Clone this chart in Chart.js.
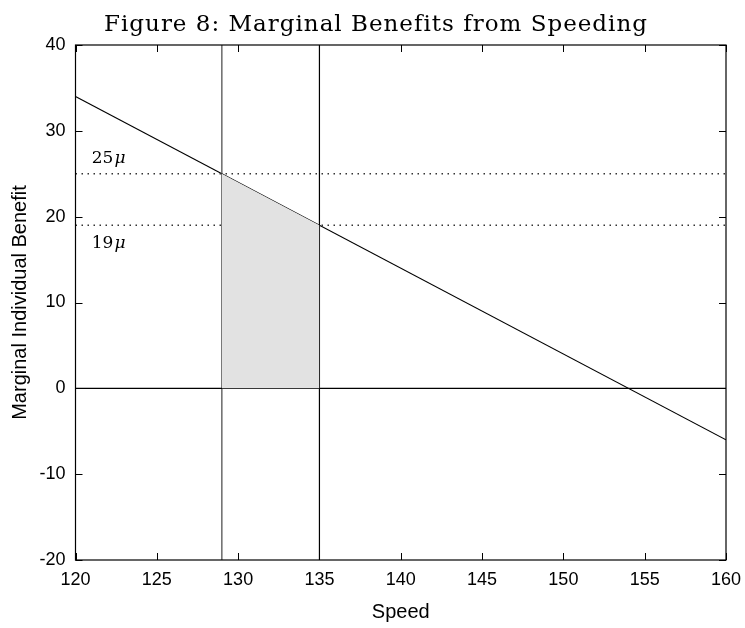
<!DOCTYPE html>
<html>
<head>
<meta charset="utf-8">
<script src="https://cdn.jsdelivr.net/npm/chart.js@4.4.1/dist/chart.umd.min.js"></script>
<style>
  html, body { margin: 0; padding: 0; background: #fff; }
  #wrap { width: 745px; height: 628px; }
</style>
</head>
<body>
<div id="wrap"><canvas id="chart" width="745" height="628"></canvas></div>
<script>
// Data
const benefitSpeeds = [120, 160];
const benefitValues = [34, -6];
const shadeSpeeds = [129, 135];
const shadeValues = [25, 19];
const markerSpeeds = [129, 135];
const levelValues = [25, 19];
const levelLabels = ['25', '19'];
const xTicks = [120, 125, 130, 135, 140, 145, 150, 155, 160];
const yTicks = [-20, -10, 0, 10, 20, 30, 40];

const X_MIN = 120, X_MAX = 160, Y_MIN = -20, Y_MAX = 40;

const toPoints = (xs, ys) => xs.map((x, i) => ({ x: x, y: ys[i] }));

// Inward ticks on all four sides, plus title and level labels
const framePlugin = {
    id: 'frame',
    afterDraw(chart) {
        const ctx = chart.ctx;
        const area = chart.chartArea;
        const xs = chart.scales.x;
        const ys = chart.scales.y;
        const len = 7;
        ctx.save();
        ctx.strokeStyle = '#000';
        ctx.lineWidth = 1;
        ctx.beginPath();
        xTicks.forEach(v => {
            const px = Math.round(xs.getPixelForValue(v)) + 0.5;
            ctx.moveTo(px, area.bottom); ctx.lineTo(px, area.bottom - len);
            ctx.moveTo(px, area.top); ctx.lineTo(px, area.top + len);
        });
        yTicks.forEach(v => {
            const py = Math.round(ys.getPixelForValue(v)) + 0.5;
            ctx.moveTo(area.left, py); ctx.lineTo(area.left + len, py);
            ctx.moveTo(area.right, py); ctx.lineTo(area.right - len, py);
        });
        ctx.stroke();
        ctx.lineWidth = 1.2;
        ctx.strokeRect(area.left, area.top, area.right - area.left, area.bottom - area.top);

        // title
        ctx.fillStyle = '#000';
        ctx.font = '23px "DejaVu Serif"';
        ctx.letterSpacing = '1px';
        ctx.textAlign = 'center';
        ctx.textBaseline = 'alphabetic';
        ctx.fillText('Figure 8: Marginal Benefits from Speeding', 376, 31);
        ctx.letterSpacing = '0px';

        // level labels (25μ above, 19μ below)
        const offsets = [-11, 23];
        levelValues.forEach((v, i) => {
            const px = xs.getPixelForValue(121);
            const py = ys.getPixelForValue(v) + offsets[i];
            ctx.textAlign = 'left';
            ctx.font = '17px "DejaVu Serif"';
            ctx.fillText(levelLabels[i], px, py);
            const w = ctx.measureText(levelLabels[i]).width;
            ctx.font = 'italic 17px "DejaVu Serif"';
            ctx.fillText('\u03bc', px + w + 1, py);
        });
        ctx.restore();
    }
};

const ctx = document.getElementById('chart').getContext('2d');
new Chart(ctx, {
    type: 'scatter',
    data: {
        datasets: [
            {
                // shaded area between 129 and 135
                data: toPoints(shadeSpeeds, shadeValues),
                showLine: true,
                borderWidth: 0,
                borderColor: 'rgba(0,0,0,0)',
                backgroundColor: '#e2e2e2',
                fill: 'origin',
                pointRadius: 0
            },
            {
                data: toPoints([X_MIN, X_MAX], [0, 0]),
                showLine: true, borderColor: '#000', borderWidth: 1.2, pointRadius: 0
            },
            {
                data: toPoints([X_MIN, X_MAX], [levelValues[0], levelValues[0]]),
                showLine: true, borderColor: '#333', borderWidth: 1.3, borderDash: [1.5, 4.5], pointRadius: 0
            },
            {
                data: toPoints([X_MIN, X_MAX], [levelValues[1], levelValues[1]]),
                showLine: true, borderColor: '#333', borderWidth: 1.3, borderDash: [1.5, 4.5], pointRadius: 0
            },
            {
                data: toPoints([markerSpeeds[0], markerSpeeds[0]], [Y_MIN, Y_MAX]),
                showLine: true, borderColor: '#444', borderWidth: 1.2, pointRadius: 0
            },
            {
                data: toPoints([markerSpeeds[1], markerSpeeds[1]], [Y_MIN, Y_MAX]),
                showLine: true, borderColor: '#000', borderWidth: 1.2, pointRadius: 0
            },
            {
                // marginal benefit line
                data: toPoints(benefitSpeeds, benefitValues),
                showLine: true, borderColor: '#000', borderWidth: 1.2, pointRadius: 0
            }
        ]
    },
    options: {
        responsive: false,
        animation: false,
        layout: { padding: { top: 45, right: 19, bottom: 0, left: 0 } },
        plugins: {
            legend: { display: false },
            tooltip: { enabled: false },
            title: { display: false }
        },
        scales: {
            x: {
                type: 'linear',
                min: X_MIN, max: X_MAX,
                afterBuildTicks: s => { s.ticks = xTicks.map(v => ({ value: v })); },
                afterFit: s => { s.height = 68; s.paddingLeft = 0; s.paddingRight = 0; },
                grid: { display: false, drawTicks: false },
                border: { display: false },
                ticks: {
                    color: '#000', padding: 9,
                    font: { family: '"Liberation Sans", Arial, sans-serif', size: 18 }
                },
                title: {
                    display: true, text: 'Speed', color: '#000',
                    font: { family: '"Liberation Sans", Arial, sans-serif', size: 20 },
                    padding: { top: 2 }
                }
            },
            y: {
                type: 'linear',
                min: Y_MIN, max: Y_MAX,
                afterBuildTicks: s => { s.ticks = yTicks.map(v => ({ value: v })); },
                afterFit: s => { s.width = 75.5; },
                grid: { display: false, drawTicks: false },
                border: { display: false },
                ticks: {
                    color: '#000', padding: 10,
                    font: { family: '"Liberation Sans", Arial, sans-serif', size: 18 }
                },
                title: {
                    display: true, text: 'Marginal Individual Benefit', color: '#000',
                    font: { family: '"Liberation Sans", Arial, sans-serif', size: 20 },
                    padding: { top: 8, bottom: 0 }
                }
            }
        }
    },
    plugins: [framePlugin]
});
</script>
</body>
</html>
